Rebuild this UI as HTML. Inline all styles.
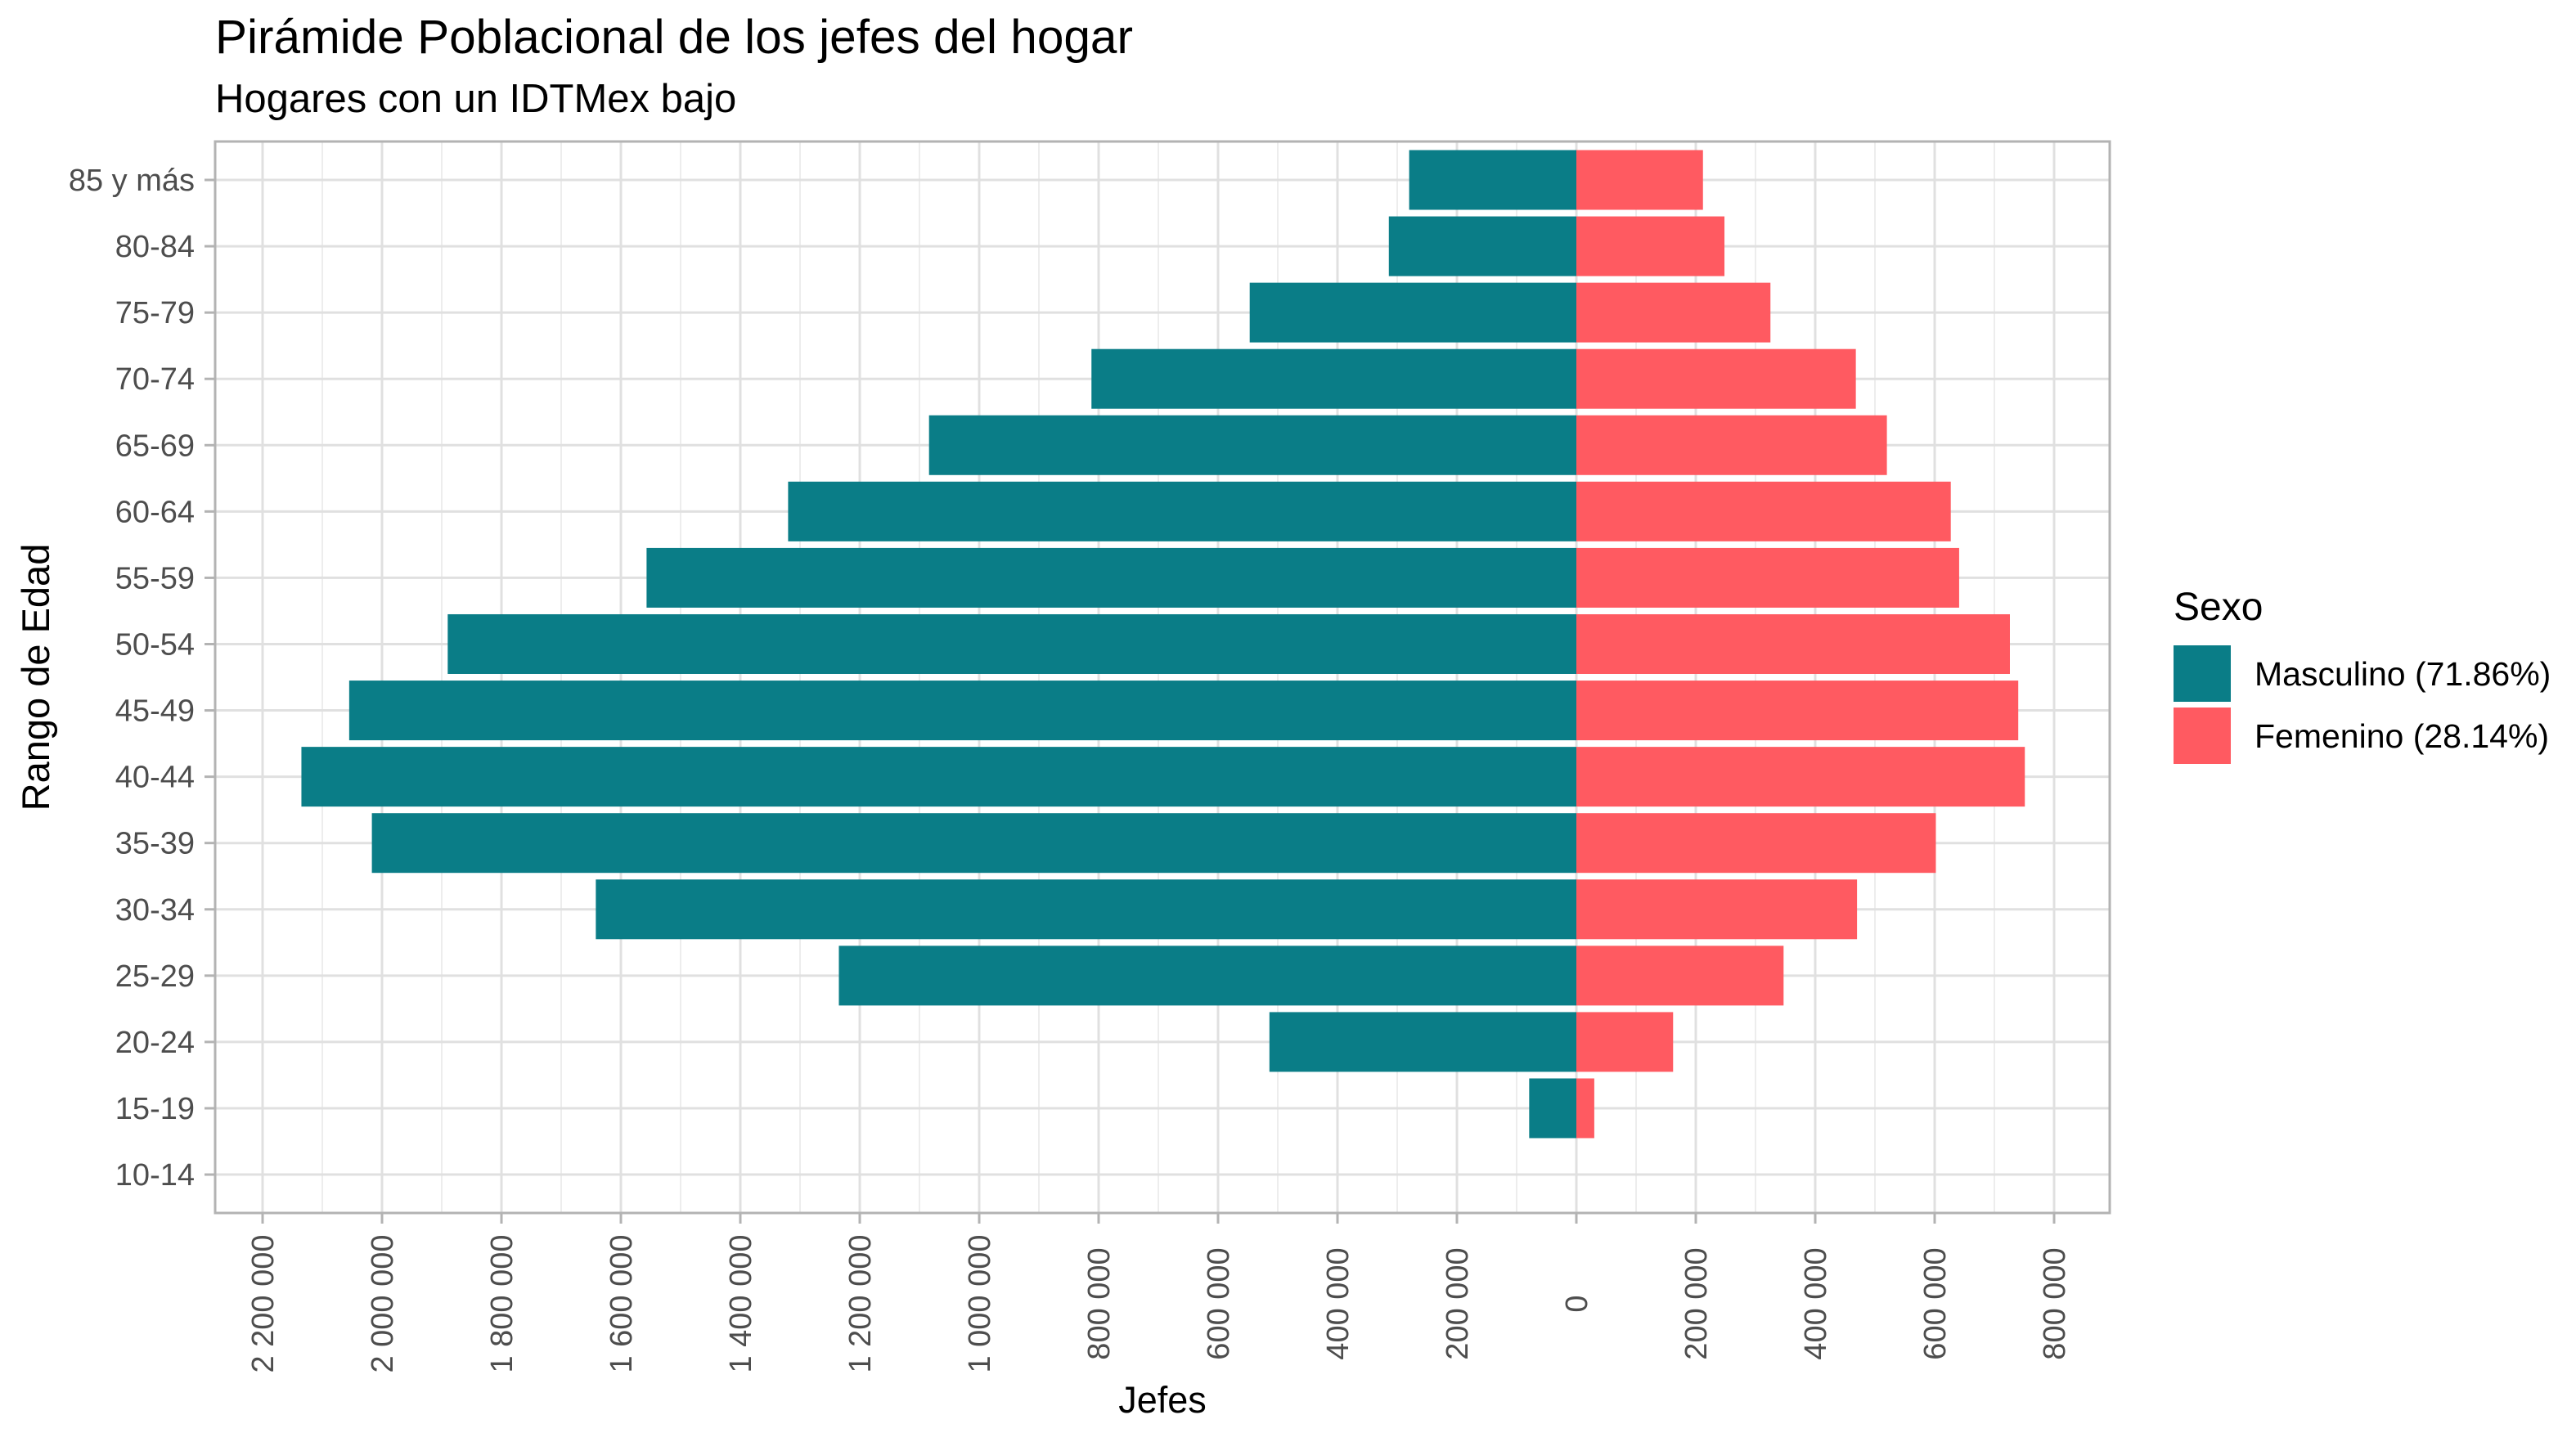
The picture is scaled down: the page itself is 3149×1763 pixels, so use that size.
<!DOCTYPE html>
<html><head><meta charset="utf-8"><style>
html,body{margin:0;padding:0;background:#fff;}
svg{display:block;font-family:"Liberation Sans",Arial,sans-serif;}
</style></head><body>
<svg id="chart" width="3149" height="1763" viewBox="0 0 3149 1763" xmlns="http://www.w3.org/2000/svg">
<text x="263" y="65" font-size="58.5" fill="#000">Pirámide Poblacional de los jefes del hogar</text>
<text x="263" y="137" font-size="49" fill="#000">Hogares con un IDTMex bajo</text>
<g id="grid"></g>
<g id="bars"></g>
<rect x="263" y="173" width="2316" height="1310" fill="none" stroke="#b3b3b3" stroke-width="3"/>
<g id="yaxis"></g>
<g id="xaxis"></g>
<text x="1421" y="1727" font-size="45" text-anchor="middle" fill="#000">Jefes</text>
<text transform="translate(60,828) rotate(-90)" font-size="47" text-anchor="middle" fill="#000">Rango de Edad</text>
<g>
<text x="2657" y="758" font-size="48" fill="#000">Sexo</text>
<rect x="2657" y="789" width="70" height="69" fill="#0a7d87"/>
<text x="2756" y="838" font-size="41" fill="#000">Masculino (71.86%)</text>
<rect x="2657" y="865" width="70" height="69" fill="#ff5a61"/>
<text x="2756" y="914" font-size="41" fill="#000">Femenino (28.14%)</text>
</g>
</svg>
<script>
const categories = ["85 y más","80-84","75-79","70-74","65-69","60-64","55-59","50-54","45-49","40-44","35-39","30-34","25-29","20-24","15-19","10-14"];
const maleValues = [280000,314000,547000,812000,1084000,1320000,1557000,1890000,2055000,2135000,2017000,1642000,1235000,514000,79000,0];
const femaleValues = [212000,248000,325000,468000,520000,627000,641000,726000,740000,751000,602000,470000,347000,162000,30000,0];
const tickValues = [-2200000,-2000000,-1800000,-1600000,-1400000,-1200000,-1000000,-800000,-600000,-400000,-200000,0,200000,400000,600000,800000];
const tickLabels = ["2 200 000","2 000 000","1 800 000","1 600 000","1 400 000","1 200 000","1 000 000","800 000","600 000","400 000","200 000","0","200 000","400 000","600 000","800 000"];

const NS="http://www.w3.org/2000/svg";
const PL=263, PR=2579, PT=173, PB=1483;
const x0=1927, pxPer=146/200000;
function xs(v){return x0+v*pxPer;}
function ys(i){return 220+i*81.07;}
const bandH=73;
function mk(tag,attrs,parent){const e=document.createElementNS(NS,tag);for(const k in attrs)e.setAttribute(k,attrs[k]);parent.appendChild(e);return e;}

const grid=document.getElementById('grid');
for(let v=-2300000; v<=900000; v+=200000){
  const x=xs(v); if(x<=PL||x>=PR) continue;
  const l=mk('line',{x1:x,x2:x,y1:PT,y2:PB,stroke:'#ededed','stroke-width':2},grid);
  
  
}
tickValues.forEach(v=>{
  const x=xs(v);
  const l=mk('line',{x1:x,x2:x,y1:PT,y2:PB,stroke:'#e0e0e0','stroke-width':3},grid);
  
  
});
categories.forEach((c,i)=>{
  const y=ys(i);
  const l=mk('line',{x1:PL,x2:PR,y1:y,y2:y,stroke:'#e0e0e0','stroke-width':3},grid);
  
  
});

const bars=document.getElementById('bars');
categories.forEach((c,i)=>{
  const y=ys(i)-bandH/2;
  const m=maleValues[i], f=femaleValues[i];
  if(m>0){
    const r=mk('rect',{x:xs(-m),y:y,width:xs(0)-xs(-m),height:bandH,fill:'#0a7d87'},bars);
    
    
  }
  if(f>0){
    const r=mk('rect',{x:xs(0),y:y,width:xs(f)-xs(0),height:bandH,fill:'#ff5a61'},bars);
    
    
  }
});

const yaxis=document.getElementById('yaxis');
categories.forEach((c,i)=>{
  const y=ys(i);
  const t=mk('line',{x1:PL-13,x2:PL,y1:y,y2:y,stroke:'#b3b3b3','stroke-width':3},yaxis);
  
  
  const tx=mk('text',{x:238,y:y+13,'font-size':38,'text-anchor':'end',fill:'#4d4d4d'},yaxis);
  tx.textContent=c;
  
  
});

const xaxis=document.getElementById('xaxis');
tickValues.forEach((v,i)=>{
  const x=xs(v);
  const t=mk('line',{x1:x,x2:x,y1:PB,y2:PB+13,stroke:'#b3b3b3','stroke-width':3},xaxis);
  
  
  const tx=mk('text',{transform:'translate('+(x+13)+',1594) rotate(-90)','font-size':38,'text-anchor':'middle',fill:'#4d4d4d'},xaxis);
  tx.textContent=tickLabels[i];
  
  
});
</script>
</body></html>
